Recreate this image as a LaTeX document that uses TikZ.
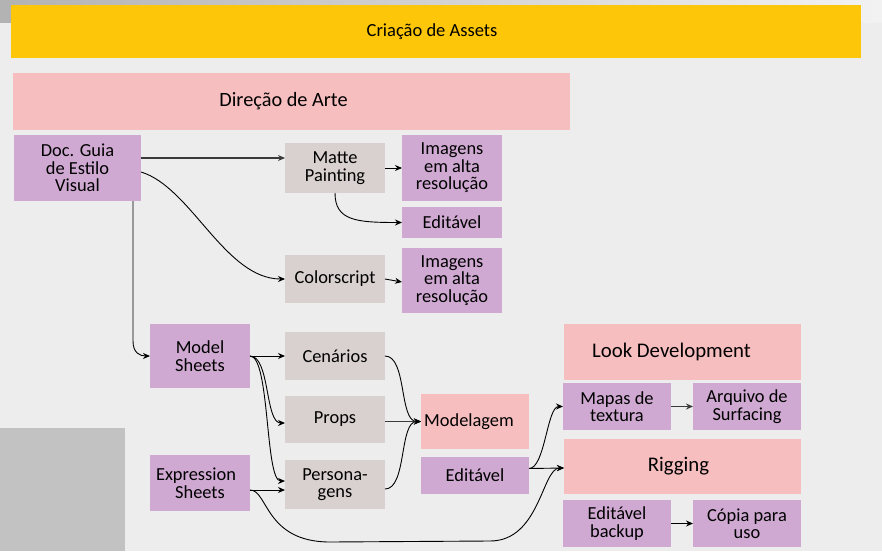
\documentclass[tikz,border=0pt]{standalone}
\usepackage{fontspec}
\setmainfont{Carlito}
\usetikzlibrary{arrows.meta}
\definecolor{bgcol}{HTML}{EDEDED}
\definecolor{yellowbar}{HTML}{FDC609}
\definecolor{pinkbox}{HTML}{F7BEBF}
\definecolor{lilac}{HTML}{CFA9D2}
\definecolor{greybox}{HTML}{D9D1CF}
\definecolor{sidegrey}{HTML}{C2C2C2}
\definecolor{darkline}{HTML}{3A3A3A}

\begin{document}
\begin{tikzpicture}[x=1pt,y=-1pt,
  base/.style={inner sep=0pt, outer sep=0pt, align=center,
    font=\fontsize{18.4}{17.5}\selectfont},
  wh/.style 2 args={minimum width=#1pt, minimum height=#2pt},
  lilacbox/.style={base, fill=lilac},
  pinkboxst/.style={base, fill=pinkbox},
  greyboxst/.style={base, fill=greybox},
  bigtext/.style={font=\fontsize{20.8}{20}\selectfont},
  arr/.style={draw=black, line width=0.9pt, -{Stealth[length=7pt,width=6pt]}},
  heavyarr/.style={draw=darkline, line width=1.5pt, -{Stealth[length=7pt,width=6pt]}}
]
% canvas and decorative bands
\useasboundingbox (0,0) rectangle (882,551);
\fill[bgcol] (0,0) rectangle (882,551);
\shade[left color=black!30, right color=black!5] (0,0) rectangle (882,23);
\fill[sidegrey] (0,428) rectangle (125,551);

% headers
\node[base, fill=yellowbar, wh={850}{53}, font=\fontsize{18.5}{18}\selectfont] (title) at (436,31.5) {Criação de Assets\hspace*{8pt}};
\node[pinkboxst, wh={557}{57}, font=\fontsize{20.3}{20}\selectfont] (dir) at (291.5,101.5) {Direção de Arte\hspace*{16pt}};

% art direction branch
\node[lilacbox, wh={127}{66}] (doc) at (77.5,168) {Doc. Guia\\de Estilo\\Visual};
\node[greyboxst, wh={100}{50}] (matte) at (335,168) {Matte\\Painting};
\node[lilacbox, wh={100}{66}] (img1) at (452,168) {Imagens\\em alta\\resolução};
\node[lilacbox, wh={100}{31}] (edit1) at (452,222.5) {Editável};
\node[greyboxst, wh={100}{48}] (color) at (335,279) {Colorscript};
\node[lilacbox, wh={100}{65}] (img2) at (452,280.5) {Imagens\\em alta\\resolução};

% modelling branch
\node[lilacbox, wh={100}{64}] (model) at (200,356) {Model\\Sheets};
\node[lilacbox, wh={100}{56}] (expr) at (200,483) {Expression\hspace*{8pt}\\Sheets};
\node[greyboxst, wh={100}{48}] (cen) at (335,356) {Cenários};
\node[greyboxst, wh={100}{47}] (props) at (335,419.5) {Props};
\node[greyboxst, wh={100}{49}] (pers) at (335,484.5) {Persona-\\gens};
\node[pinkboxst, wh={108}{55}] (modl) at (475,421.5) {Modelagem\hspace*{12pt}};
\node[lilacbox, wh={108}{37}] (edit2) at (475,475.5) {Editável};

% look development and rigging
\node[pinkboxst, wh={237}{56}, bigtext] (look) at (682.5,352) {Look Development\hspace*{22pt}};
\node[lilacbox, wh={108}{47}] (mapas) at (617,406.5) {Mapas de\\textura};
\node[lilacbox, wh={108}{47}] (arq) at (747,406.5) {Arquivo de\\Surfacing};
\node[pinkboxst, wh={237}{55}, bigtext] (rig) at (682.5,466.5) {Rigging\hspace*{8pt}};
\node[lilacbox, wh={108}{47}] (ebk) at (617,523.5) {Editável\\backup};
\node[lilacbox, wh={108}{47}] (copia) at (747,523.5) {Cópia para\\uso};

% free bends of the long connector
\coordinate (bendA) at (330,542);
\coordinate (bendB) at (490,541);

% connectors
\draw[heavyarr] ([yshift=10pt]doc.east) -- ([yshift=10pt]matte.west);
\draw[arr] ([yshift=-4pt]doc.east) .. controls +(50,15) and +(-60,0) .. (color.west);
\draw[arr] ([xshift=55.5pt]doc.south) -- ++(0,140) .. controls +(0,12) and +(-10,0) .. (model.west);
\draw[arr] (matte.east) -- (img1.west);
\draw[arr] (matte.south) .. controls +(0,28) and +(-45,0) .. (edit1.west);
\draw[arr] (color.east) -- ([yshift=-1.5pt]img2.west);

\draw[arr] (model.east) -- (cen.west);
\draw[arr] (model.east) .. controls +(20,0) and +(-20,0) .. ([yshift=-3.5pt]props.west);
\draw[arr] (model.east) .. controls +(20,0) and +(-20,0) .. ([yshift=3.5pt]pers.west);
\draw[arr] ([yshift=-7pt]expr.east) -- ([yshift=-5.5pt]pers.west);

\draw[arr] (cen.east) .. controls +(22,0) and +(-22,0) .. (modl.west);
\draw[heavyarr] (props.east |- modl.west) -- (modl.west);
\draw[arr] ([yshift=-4.5pt]pers.east) .. controls +(22,0) and +(-22,0) .. (modl.west);

\draw[arr] ([yshift=7pt]edit2.east) .. controls +(16,0) and +(-16,0) .. (mapas.west);
\draw[arr] ([yshift=7pt]edit2.east) -- ([yshift=-1.5pt]rig.west);
\draw[arr] ([yshift=-7pt]expr.east) .. controls +(18,0) and +(-65,0) .. (bendA)
  -- (bendB) .. controls +(50,0) and +(-22,0) .. ([yshift=-1.5pt]rig.west);

\draw[heavyarr] (mapas.east) -- (arq.west);
\draw[arr] (ebk.east) -- (copia.west);
\end{tikzpicture}
\end{document}
